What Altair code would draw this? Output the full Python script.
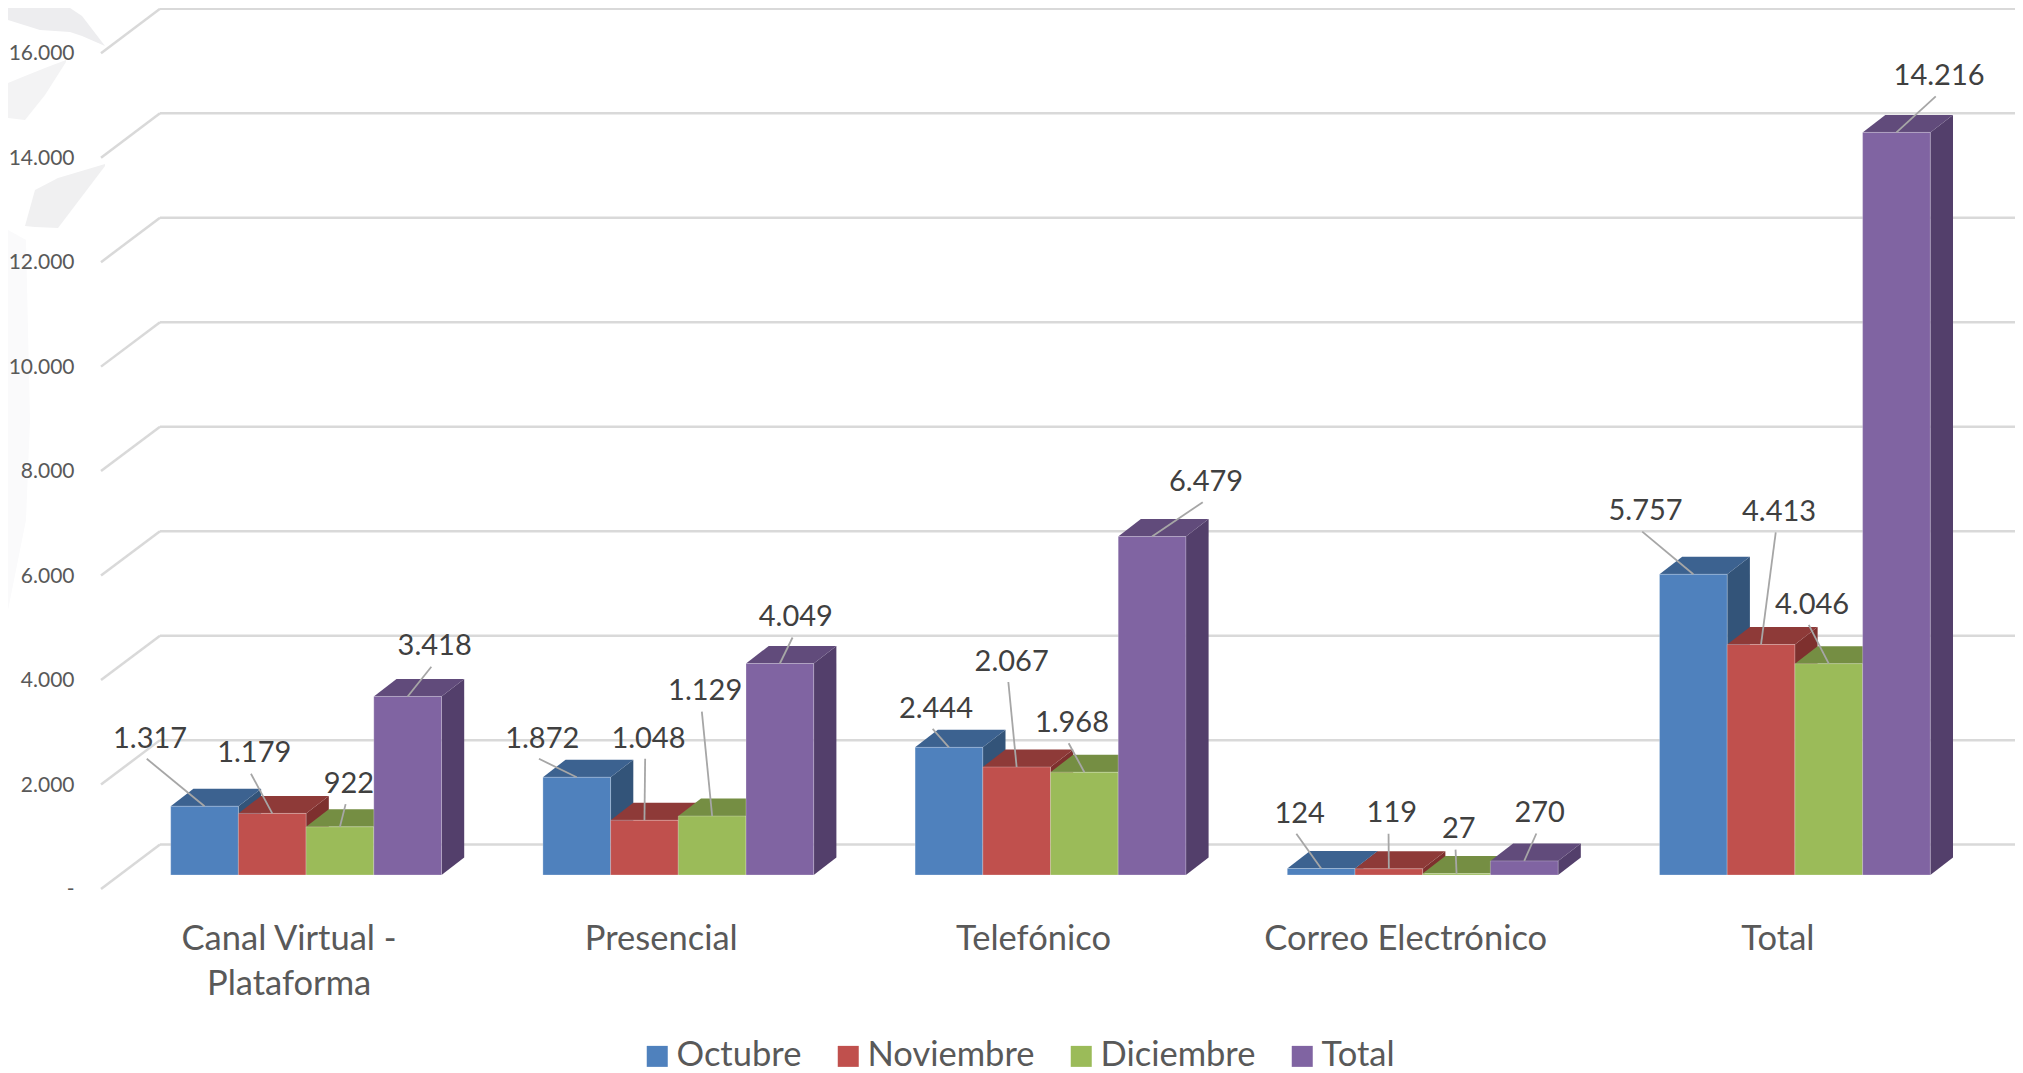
import altair as alt
import pandas as pd

# ---- values
CATEGORIES = ["Canal Virtual -\nPlataforma", "Presencial", "Telefónico", "Correo Electrónico", "Total"]
SERIES = ["Octubre", "Noviembre", "Diciembre", "Total"]
OCTUBRE = [1317, 1872, 2444, 124, 5757]
NOVIEMBRE = [1179, 1048, 2067, 119, 4413]
DICIEMBRE = [922, 1129, 1968, 27, 4046]
TOTAL = [3418, 4049, 6479, 270, 14216]
TICKS = [0, 2000, 4000, 6000, 8000, 10000, 12000, 14000, 16000]
TICK_LABELS = ["-", "2.000", "4.000", "6.000", "8.000", "10.000", "12.000", "14.000", "16.000"]

# ---- styles
FRONT = ["#4F81BD", "#C0504D", "#9BBB59", "#8064A2"]
TOP = ["#3C6290", "#8E3A38", "#758E43", "#614B7B"]
SIDE = ["#335479", "#7E302E", "#647A38", "#533F6B"]
GRID = "#D9D9D9"
FONT = "Lato"

# ---- layout (page pixels of the 3D projection)
LEFT, RIGHT = 100.0, 2015.0
PAGE_TOP, PAGE_BOTTOM = 8.0, 1073.0
BASE_Y = 875.0            # page y of value 0 on the bars' front plane
K = (844.6 - 8.8) / 16000  # px per unit
GROUP_X = 170.7
GROUP_STEP = 372.2
BAR_W = 67.7
DEPTH_X, DEPTH_Y = 22.7, 17.5
WALL_X0, WALL_X1 = 160.0, 2015.0
WALL_UP = 30.4            # wall above the front plane
FLOOR_X0 = 101.0
FLOOR_DOWN = 14.0         # axis edge below the front plane
TICK_LABEL_X = 74.5

# label centre relative to the top centre of its bar (px), one row per series
LABEL_DX = [[-54.5, -34.5, -13, -21.5, -47.8], [-18, 4, -5, 3, 18], [9, -7, -12.4, 2.3, -16.7], [27, 16, 54, 15.4, 42.6]]
LABEL_DY = [[-69.7, -40.7, -40.7, -57, -65], [-62, -83.7, -107.3, -57.3, -134.3], [-45, -126.7, -51.3, -46.3, -61], [-52, -48.3, -56.7, -49.7, -58.4]]
LEADER_DX, LEADER_DY = -3.3, 22.3

# faint watermark in the page's top-left corner: (x, y_top, y_bottom) in page px
WATERMARK = [
    [(8, 8, 20), (40, 8, 30), (70, 8, 32), (82, 16, 36), (105, 46, 46)],
    [(8, 83, 118), (25, 76, 120), (45, 68, 95), (66, 60, 62)],
    [(25, 226, 226), (35, 190, 227), (58, 178, 228), (105, 164, 166)],
    [(8, 230, 610), (26, 240, 520), (30, 420, 420)],
]
WATERMARK_COLORS = ["#EDEDEF", "#F3F3F4", "#F0F0F1", "#FAFAFB"]

VALUES = [OCTUBRE, NOVIEMBRE, DICIEMBRE, TOTAL]


def up(px):
    """Convert a pixel distance to value units."""
    return px / K


def page_y(py):
    return (BASE_Y - py) / K


XS = alt.Scale(domain=[LEFT, RIGHT], nice=False, zero=False)
YS = alt.Scale(domain=[page_y(PAGE_BOTTOM), page_y(PAGE_TOP)], nice=False, zero=False)
W = RIGHT - LEFT
H = PAGE_BOTTOM - PAGE_TOP


def X(f):
    return alt.X(f, type="quantitative", scale=XS, axis=None, title=None)


def Y(f):
    return alt.Y(f, type="quantitative", scale=YS, axis=None, title=None)


layers = []

# watermark
for shape, col in zip(WATERMARK, WATERMARK_COLORS):
    d = pd.DataFrame([{"x": a, "y": page_y(b), "y2": page_y(c)} for a, b, c in shape])
    layers.append(alt.Chart(d).mark_area(color=col).encode(x=X("x"), y=Y("y"), y2="y2"))

# walls
walls = pd.DataFrame({"v": TICKS, "t": TICK_LABELS})
walls["wy"] = walls.v + up(WALL_UP)
walls["fy"] = walls.v - up(FLOOR_DOWN)
walls["x0"], walls["x1"], walls["fx"], walls["lx"] = WALL_X0, WALL_X1, FLOOR_X0, TICK_LABEL_X

layers.append(alt.Chart(walls).mark_rule(color=GRID, strokeWidth=2.5).encode(
    x=X("x0"), x2="x1", y=Y("wy")))
layers.append(alt.Chart(walls).mark_rule(color=GRID, strokeWidth=2.5).encode(
    x=X("fx"), x2="x0", y=Y("fy"), y2="wy"))
layers.append(alt.Chart(walls).mark_text(
    font=FONT, fontSize=21, color="#595959", align="right", baseline="middle", dy=15,
).encode(x=X("lx"), y=Y("v"), text="t:N"))

# bars, left to right, so each bar's faces cover the previous one's side
legend = alt.Legend(
    orient="none", legendX=540, legendY=1031, direction="horizontal", title=None, columns=4,
    symbolType="square", symbolSize=441, symbolStrokeWidth=0, symbolOpacity=1,
    labelFont=FONT, labelFontSize=34.5, labelColor="#595959", labelOffset=2, columnPadding=29,
    labelLimit=400, padding=0,
)
colorscale = alt.Scale(domain=SERIES, range=FRONT)
label_rows = []
for g in range(len(CATEGORIES)):
    for s, name in enumerate(SERIES):
        v = VALUES[s][g]
        x0 = GROUP_X + g * GROUP_STEP + s * BAR_W
        x1 = x0 + BAR_W
        dv = up(DEPTH_Y)
        side = pd.DataFrame({"x": [x1, x1 + DEPTH_X], "y": [v, v + dv], "y2": [0, dv]})
        layers.append(alt.Chart(side).mark_area(color=SIDE[s]).encode(x=X("x"), y=Y("y"), y2="y2"))
        top = pd.DataFrame({"y": [v, v + dv], "x": [x0, x0 + DEPTH_X], "x2": [x1, x1 + DEPTH_X]})
        layers.append(alt.Chart(top).mark_area(color=TOP[s], orient="horizontal").encode(
            y=Y("y"), x=alt.X("x", type="quantitative", scale=XS, axis=None, title=None, stack=None), x2="x2"))
        front = pd.DataFrame({"serie": [name], "x": [x0], "x2": [x1], "y": [v], "y2": [0]})
        layers.append(alt.Chart(front).mark_bar(stroke="#FFFFFF", strokeOpacity=0.25, strokeWidth=1).encode(
            x=X("x"), x2="x2", y=Y("y"), y2="y2",
            color=alt.Color("serie:N", scale=colorscale, legend=legend)))
        cx = x0 + BAR_W / 2
        lx = cx + LABEL_DX[s][g]
        ly = v - up(LABEL_DY[s][g])
        label_rows.append({
            "cx": cx, "v": v, "lx": lx, "ly": ly,
            "sx": lx + LEADER_DX, "sy": ly - up(LEADER_DY),
            "t": f"{v:,}".replace(",", "."),
        })

labels = pd.DataFrame(label_rows)
layers.append(alt.Chart(labels).mark_rule(color="#A6A6A6", strokeWidth=1.8).encode(
    x=X("sx"), x2="cx", y=Y("sy"), y2="v"))
layers.append(alt.Chart(labels).mark_text(font=FONT, fontSize=29, color="#404040", baseline="middle", align="center", dy=2).encode(
    x=X("lx"), y=Y("ly"), text="t:N"))

# category labels
cats = pd.DataFrame({
    "c": CATEGORIES,
    "x": [GROUP_X + i * GROUP_STEP + 2 * BAR_W - 17 for i in range(len(CATEGORIES))],
    "y": [page_y(922.5)] * len(CATEGORIES),
})
layers.append(alt.Chart(cats).mark_text(
    font=FONT, fontSize=34.5, color="#595959", baseline="top", align="center", lineBreak="\n", lineHeight=45,
).encode(x=X("x"), y=Y("y"), text="c:N"))

chart = alt.layer(*layers).properties(
    width=W, height=H,
    autosize=alt.AutoSizeParams(type="none"),
    padding={"left": LEFT - 8, "top": 0, "right": 0, "bottom": 0},
    background="white",
).configure_view(stroke=None)

chart.save("out.html", embed_options={"renderer": "svg", "actions": False})
